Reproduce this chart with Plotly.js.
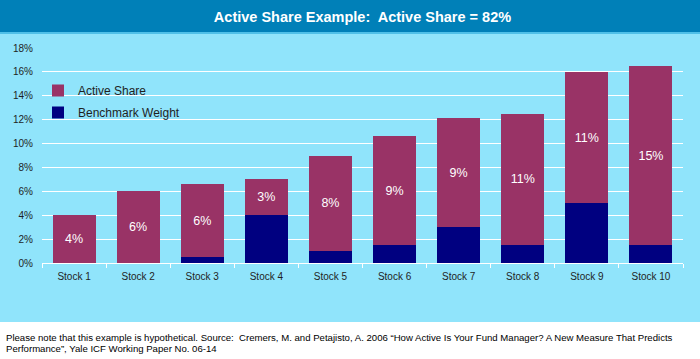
<!DOCTYPE html>
<html>
<head>
<meta charset="utf-8">
<script src="https://cdn.plot.ly/plotly-3.0.1.min.js"></script>
<style>
html,body{margin:0;padding:0;background:#fff;}
#chart{width:700px;height:359px;}
</style>
</head>
<body>
<div id="chart"></div>
<script>
const categories = ["Stock 1","Stock 2","Stock 3","Stock 4","Stock 5","Stock 6","Stock 7","Stock 8","Stock 9","Stock 10"];
const benchmarkWeight = [0, 0, 0.5, 4, 1, 1.5, 3, 1.5, 5, 1.5];
const activeShare = [4, 6, 6.1, 3, 8, 9.1, 9.1, 11, 11, 15];
const yTickVals = [0,2,4,6,8,10,12,14,16,18];
const yTickText = ["0%","2%","4%","6%","8%","10%","12%","14%","16%","18%"];
const titleText = "Active Share Example:  Active Share = 82%";
const footnoteLine1 = "Please note that this example is hypothetical. Source:  Cremers, M. and Petajisto, A. 2006 \u201cHow Active Is Your Fund Manager? A New Measure That Predicts";
const footnoteLine2 = "Performance\u201d, Yale ICF Working Paper No. 06-14";

const W = 700, H = 359, mL = 42, mR = 17, mT = 48, mB = 96;
const pw = W - mL - mR, ph = H - mT - mB;
const px = x => (x - mL) / pw;
const py = y => (H - mB - y) / ph;

const font = "Liberation Sans, Arial, sans-serif";
const dark = "#1f1f1f";
const cyan = "#90E4FB";

const traces = [
  {
    type: "bar", name: "Benchmark Weight", x: categories, y: benchmarkWeight,
    legendgroup: "b", legendrank: 2,
    marker: {color: "#000080", line: {width: 0}},
    hoverinfo: "skip"
  },
  {
    type: "bar", name: "Active Share", x: categories, y: activeShare,
    legendgroup: "a", legendrank: 1,
    marker: {color: "#993366", line: {width: 0}},
    text: activeShare.map(v => Math.round(v) + "%"),
    textposition: "inside", insidetextanchor: "middle",
    textfont: {color: "#ffffff", size: 12.5, family: font},
    hoverinfo: "skip"
  }
];

const layout = {
  width: W, height: H,
  margin: {l: mL, r: mR, t: mT, b: mB, pad: 0},
  paper_bgcolor: "#ffffff",
  plot_bgcolor: "rgba(0,0,0,0)",
  barmode: "stack",
  bargap: 0.33,
  showlegend: true,
  legend: {
    x: px(38), y: py(76), xanchor: "left", yanchor: "top",
    bgcolor: "rgba(0,0,0,0)", borderwidth: 0,
    font: {family: font, size: 12, color: dark},
    traceorder: "grouped", tracegroupgap: 3, itemwidth: 30
  },
  title: {
    text: "<b>" + titleText + "</b>",
    font: {family: font, size: 14.5, color: "#ffffff"},
    x: 0.5, xref: "paper", xanchor: "center",
    y: 1 - 17 / H, yref: "container", yanchor: "middle"
  },
  xaxis: {
    type: "category",
    tickson: "boundaries", ticks: "outside", ticklen: 4, tickcolor: "#ffffff",
    showline: true, linecolor: "#ffffff", linewidth: 1,
    showgrid: false,
    tickfont: {family: font, size: 10, color: dark},
    ticklabelstandoff: 4,
    fixedrange: true
  },
  yaxis: {
    range: [0, 18], tickvals: yTickVals, ticktext: yTickText,
    showgrid: true, gridcolor: "#ffffff", gridwidth: 1,
    zeroline: false, showline: false, ticks: "",
    tickfont: {family: font, size: 10, color: dark},
    ticklabelstandoff: 8,
    fixedrange: true
  },
  shapes: [
    {type: "rect", xref: "paper", yref: "paper", layer: "below",
     x0: px(0), x1: px(W), y0: py(322), y1: py(33),
     fillcolor: cyan, line: {width: 0}},
    {type: "rect", xref: "paper", yref: "paper", layer: "below",
     x0: px(0), x1: px(W), y0: py(33), y1: py(0),
     fillcolor: "#0080B8", line: {width: 0}},
    {type: "rect", xref: "paper", yref: "paper", layer: "below",
     x0: px(0), x1: px(W), y0: py(34), y1: py(32),
     fillcolor: "#4FC0E8", line: {width: 0}},
    {type: "rect", xref: "paper", yref: "paper", layer: "between",
     x0: px(62), x1: px(184), y0: py(123), y1: py(78),
     fillcolor: cyan, line: {width: 0}}
  ],
  annotations: [
    {text: footnoteLine1, xref: "paper", yref: "paper", x: px(4), y: py(337),
     xanchor: "left", yanchor: "middle", align: "left", showarrow: false,
     font: {family: font, size: 9.6, color: "#000000"}},
    {text: footnoteLine2, xref: "paper", yref: "paper", x: px(4), y: py(348),
     xanchor: "left", yanchor: "middle", align: "left", showarrow: false,
     font: {family: font, size: 9.6, color: "#000000"}}
  ]
};

Plotly.newPlot("chart", traces, layout, {displayModeBar: false, staticPlot: true});
</script>
</body>
</html>
